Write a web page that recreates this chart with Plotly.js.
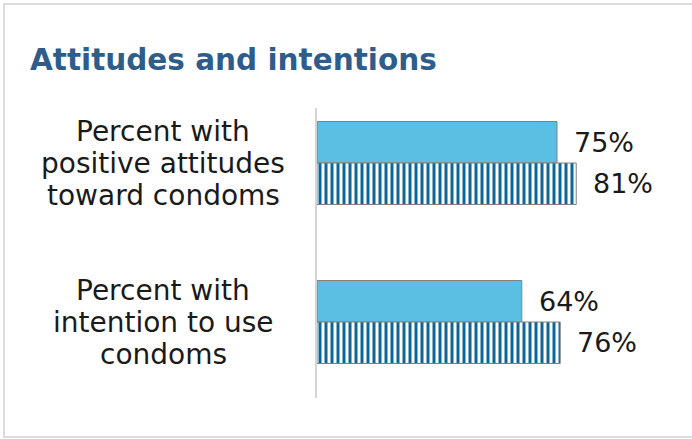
<!DOCTYPE html>
<html>
<head>
<meta charset="utf-8">
<script src="https://cdn.plot.ly/plotly-3.0.1.min.js"></script>
<style>
  html, body { margin: 0; padding: 0; background: #ffffff; overflow: hidden; }
  #wrap { position: relative; width: 692px; height: 439px; overflow: hidden; }
  #chart { position: absolute; left: 0; top: 0; width: 692px; height: 439px; }
  #frame { position: absolute; left: 3px; top: 3px; width: 720px; height: 431px;
           border-left: 2px solid #dcdcdc; border-top: 2px solid #dcdcdc;
           border-bottom: 2px solid #dcdcdc; border-right: none; pointer-events: none; }
</style>
</head>
<body>
<div id="wrap">
  <div id="chart"></div>
  <div id="frame"></div>
</div>
<script>
// ---- data ----
const categories = ["positive", "intention"];
const categoryLines = [
  ["Percent with", "positive attitudes", "toward condoms"],
  ["Percent with", "intention to use", "condoms"]
];
const seriesA = [75, 64];   // solid light-blue bars
const seriesB = [81, 76];   // striped bars
const titleText = "Attitudes and intentions";

// ---- styles ----
const FONT = "DejaVu Sans, sans-serif";
const CAT_SIZE = 28;
const VAL_SIZE = 27;
const LINE_GAP = 32;
const BAR_HALF = 20.75;

const traces = [
  {
    type: "bar", orientation: "h",
    y: categories, x: seriesA,
    marker: { color: "#5bbfe4", line: { color: "#808080", width: 1 } },
    hoverinfo: "none"
  },
  {
    type: "bar", orientation: "h",
    y: categories, x: seriesB,
    marker: {
      color: "#ffffff",
      line: { color: "#808080", width: 1 },
      pattern: { shape: "|", fgcolor: "#0d6699", bgcolor: "#ffffff", size: 6, solidity: 0.5, fillmode: "replace" }
    },
    hoverinfo: "none"
  }
];

const annotations = [];
categories.forEach((c, i) => {
  const lines = categoryLines[i];
  lines.forEach((ln, j) => {
    annotations.push({
      xref: "paper", yref: "y", x: -154 / 320, y: c,
      text: ln, showarrow: false, xanchor: "center", yanchor: "middle",
      yshift: -(j - (lines.length - 1) / 2) * LINE_GAP,
      font: { family: FONT, size: CAT_SIZE, color: "#1a1a1a" }
    });
  });
  annotations.push({
    xref: "x", yref: "y", x: seriesA[i], y: c, text: seriesA[i] + "%",
    showarrow: false, xanchor: "left", yanchor: "middle", xshift: 15, yshift: BAR_HALF,
    font: { family: FONT, size: VAL_SIZE, color: "#1a1a1a" }
  });
  annotations.push({
    xref: "x", yref: "y", x: seriesB[i], y: c, text: seriesB[i] + "%",
    showarrow: false, xanchor: "left", yanchor: "middle", xshift: 15, yshift: -BAR_HALF,
    font: { family: FONT, size: VAL_SIZE, color: "#1a1a1a" }
  });
});

const layout = {
  width: 692, height: 439,
  margin: { l: 317, r: 55, t: 108, b: 41 },
  paper_bgcolor: "#ffffff", plot_bgcolor: "#ffffff",
  showlegend: false,
  barmode: "group", bargap: 0.478, bargroupgap: 0,
  title: {
    text: titleText,
    x: 30 / 692, xanchor: "left", xref: "container",
    y: 1 - 60 / 439, yanchor: "middle", yref: "container",
    font: { family: FONT, size: 29.5, color: "#2e5d8c", weight: "bold" }
  },
  xaxis: { range: [0, 100], showgrid: false, zeroline: false, showticklabels: false, showline: false, fixedrange: true },
  yaxis: {
    type: "category", range: [1.478, -0.346],
    showgrid: false, zeroline: false, showticklabels: false,
    showline: true, linecolor: "#d4d4d4", linewidth: 2, fixedrange: true
  },
  annotations: annotations
};

Plotly.newPlot("chart", traces, layout, { staticPlot: true, displayModeBar: false });
</script>
</body>
</html>
